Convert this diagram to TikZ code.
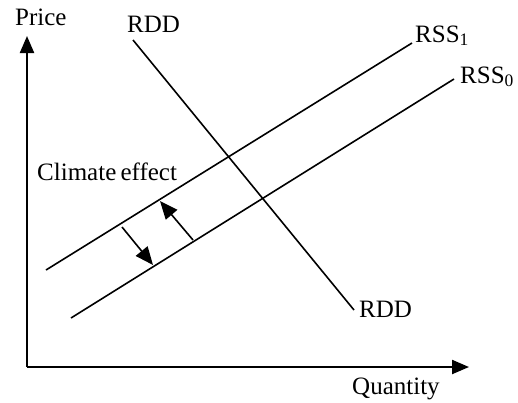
\documentclass[tikz,border=0pt]{standalone}
\usepackage{fontspec}
\setmainfont{Liberation Serif}
\usetikzlibrary{arrows.meta}
\begin{document}
\begin{tikzpicture}[x=1pt,y=-1pt,
  lbl/.style={anchor=base west,inner sep=0pt,font=\fontsize{25}{29}\selectfont},
  curve/.style={line width=1.6pt},
  axis/.style={line width=2.2pt,-{Triangle[length=17pt,width=14pt]}},
  shiftarrow/.style={line width=1.6pt,-{Triangle[length=18pt,width=15pt]}}]
\useasboundingbox (0,0) rectangle (518,402);
% axes
\coordinate (O) at (27,367);
\coordinate (Ytop) at (27,36);
\coordinate (Xend) at (469,367);
\draw[axis] (O) -- (Ytop);
\draw[axis] (O) -- (Xend);
% curves
\coordinate (D1) at (133,40);
\coordinate (D2) at (354,310);
\coordinate (S1a) at (46,270);
\coordinate (S1b) at (412,43);
\coordinate (S0a) at (71,318);
\coordinate (S0b) at (454,79);
\draw[curve] (D1) -- (D2);
\draw[curve] (S1a) -- (S1b);
\draw[curve] (S0a) -- (S0b);
% shift arrows
\coordinate (A1) at (122,227);
\coordinate (A1t) at (153,265);
\coordinate (A2) at (193,240);
\coordinate (A2t) at (160,201);
\draw[shiftarrow] (A1) -- (A1t);
\draw[shiftarrow] (A2) -- (A2t);
% labels
\node[lbl] (price) at (15,25) {Price};
\node[lbl] (rddtop) at (127,32) {RDD};
\node[lbl] (rss1) at (415,42) {RSS\textsubscript{1}};
\node[lbl] (rss0) at (460,83) {RSS\textsubscript{0}};
\node[lbl] (clim) at (37,180) {Climate\,effect};
\node[lbl] (rddbot) at (359,317) {RDD};
\node[lbl] (qty) at (352,394) {Quantity};
\end{tikzpicture}
\end{document}
